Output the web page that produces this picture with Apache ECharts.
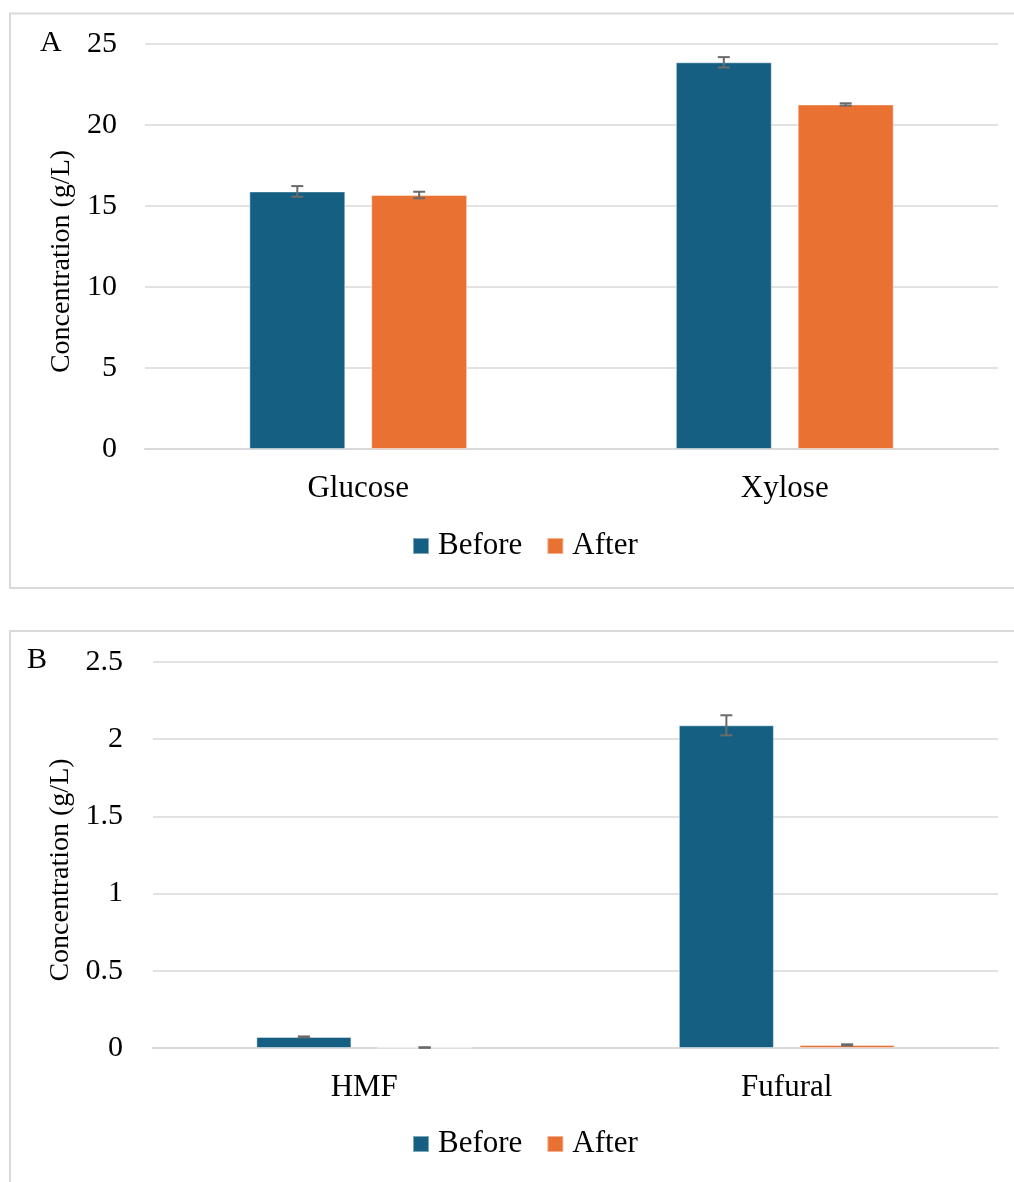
<!DOCTYPE html>
<html>
<head>
<meta charset="utf-8">
<title>Sugar and inhibitor concentrations</title>
<script src="https://cdn.jsdelivr.net/npm/echarts@6/dist/echarts.min.js"></script>
<style>
  html, body { margin: 0; padding: 0; background: #ffffff; }
  #chart { width: 1014px; height: 1182px; }
</style>
</head>
<body>
<div id="chart"></div>
<script>
// Panel A: sugars
const sugarCategories = ['Glucose', 'Xylose'];
const sugarBefore = [15.9, 23.87];
const sugarBeforeErr = [0.33, 0.32];
const sugarAfter = [15.68, 21.27];
const sugarAfterErr = [0.2, 0.07];
const sugarTicks = { min: 0, max: 25, interval: 5 };

// Panel B: inhibitors
const inhibitorCategories = ['HMF', 'Fufural'];
const inhibitorBefore = [0.072, 2.09];
const inhibitorBeforeErr = [0.003, 0.065];
const inhibitorAfter = [0.003, 0.02];
const inhibitorAfterErr = [0.002, 0.004];
const inhibitorTicks = { min: 0, max: 2.5, interval: 0.5 };

const seriesNames = ['Before', 'After'];
const colors = ['#156082', '#E97132'];

const FONT = '"Liberation Serif", "Times New Roman", serif';
const BAR_W = 0.225;   // fraction of category width
const BAR_GAP = 0.27;  // fraction of bar width
const GROUP_OFFSET = (BAR_W + BAR_W * BAR_GAP) / 2;

const chart = echarts.init(document.getElementById('chart'), null, { renderer: 'canvas' });

function errorBarSeries(gridIdx, values, errs, side) {
  return {
    type: 'custom',
    xAxisIndex: gridIdx,
    yAxisIndex: gridIdx,
    z: 5,
    silent: true,
    data: values.map((v, i) => [i, v, errs[i]]),
    renderItem: function (params, api) {
      const idx = api.value(0);
      const v = api.value(1);
      const e = api.value(2);
      const catW = api.size([1, 0])[0];
      const dx = side * GROUP_OFFSET * catW;
      const top = api.coord([idx, v + e]);
      const bot = api.coord([idx, v - e]);
      const x = top[0] + dx;
      const cap = 6;
      const style = { stroke: '#6b6b6b', lineWidth: 2 };
      return {
        type: 'group',
        children: [
          { type: 'line', shape: { x1: x, y1: top[1], x2: x, y2: bot[1] }, style },
          { type: 'line', shape: { x1: x - cap, y1: top[1], x2: x + cap, y2: top[1] }, style },
          { type: 'line', shape: { x1: x - cap, y1: bot[1], x2: x + cap, y2: bot[1] }, style }
        ]
      };
    }
  };
}

function barSeries(gridIdx, name, values, color) {
  return {
    name: name,
    type: 'bar',
    xAxisIndex: gridIdx,
    yAxisIndex: gridIdx,
    barWidth: (BAR_W * 100) + '%',
    barGap: (BAR_GAP * 100) + '%',
    itemStyle: { color: color, borderColor: 'rgba(255,255,255,0.45)', borderWidth: 1 },
    data: values
  };
}

function xAxis(gridIdx, cats) {
  return {
    type: 'category',
    gridIndex: gridIdx,
    data: cats,
    axisLine: { show: true, lineStyle: { color: '#d9d9d9', width: 2 } },
    axisTick: { show: false },
    axisLabel: { color: '#000', fontFamily: FONT, fontSize: 31, margin: 24 }
  };
}

function yAxis(gridIdx, ticks, gap, margin) {
  return {
    type: 'value',
    gridIndex: gridIdx,
    min: ticks.min,
    max: ticks.max,
    interval: ticks.interval,
    name: 'Concentration (g/L)',
    nameLocation: 'middle',
    nameRotate: 90,
    nameGap: gap,
    nameTextStyle: { color: '#000', fontFamily: FONT, fontSize: 28, padding: [0, 30, 0, 0] },
    axisLine: { show: false },
    axisTick: { show: false },
    axisLabel: { color: '#000', fontFamily: FONT, fontSize: 30, margin: margin },
    splitLine: { lineStyle: { color: '#d9d9d9', width: 1.5 } }
  };
}

function legend(top) {
  return {
    data: seriesNames,
    left: 412,
    top: top,
    padding: 0,
    icon: 'rect',
    itemWidth: 16,
    itemHeight: 16,
    itemGap: 24,
    selectedMode: false,
    textStyle: { color: '#000', fontFamily: FONT, fontSize: 31, lineHeight: 32, padding: [0, 0, 0, 4] }
  };
}

const option = {
  backgroundColor: '#ffffff',
  animation: false,
  grid: [
    { left: 145, right: 16, top: 44, height: 405 },
    { left: 153, right: 16, top: 662, height: 386 }
  ],
  legend: [legend(530), legend(1128)],
  xAxis: [xAxis(0, sugarCategories), xAxis(1, inhibitorCategories)],
  yAxis: [yAxis(0, sugarTicks, 68, 28), yAxis(1, inhibitorTicks, 76, 30)],
  series: [
    barSeries(0, seriesNames[0], sugarBefore, colors[0]),
    barSeries(0, seriesNames[1], sugarAfter, colors[1]),
    errorBarSeries(0, sugarBefore, sugarBeforeErr, -1),
    errorBarSeries(0, sugarAfter, sugarAfterErr, 1),
    barSeries(1, seriesNames[0], inhibitorBefore, colors[0]),
    barSeries(1, seriesNames[1], inhibitorAfter, colors[1]),
    errorBarSeries(1, inhibitorBefore, inhibitorBeforeErr, -1),
    errorBarSeries(1, inhibitorAfter, inhibitorAfterErr, 1)
  ],
  graphic: [
    { type: 'rect', z: -1, shape: { x: 10, y: 13.5, width: 1010, height: 574.5 },
      style: { fill: 'none', stroke: '#d9d9d9', lineWidth: 2 } },
    { type: 'rect', z: -1, shape: { x: 10, y: 631, width: 1010, height: 560 },
      style: { fill: 'none', stroke: '#d9d9d9', lineWidth: 2 } },
    { type: 'text', left: 40, top: 28,
      style: { text: 'A', fill: '#000', font: '30px ' + FONT } },
    { type: 'text', left: 27, top: 645,
      style: { text: 'B', fill: '#000', font: '30px ' + FONT } }
  ]
};

chart.setOption(option);
</script>
</body>
</html>
